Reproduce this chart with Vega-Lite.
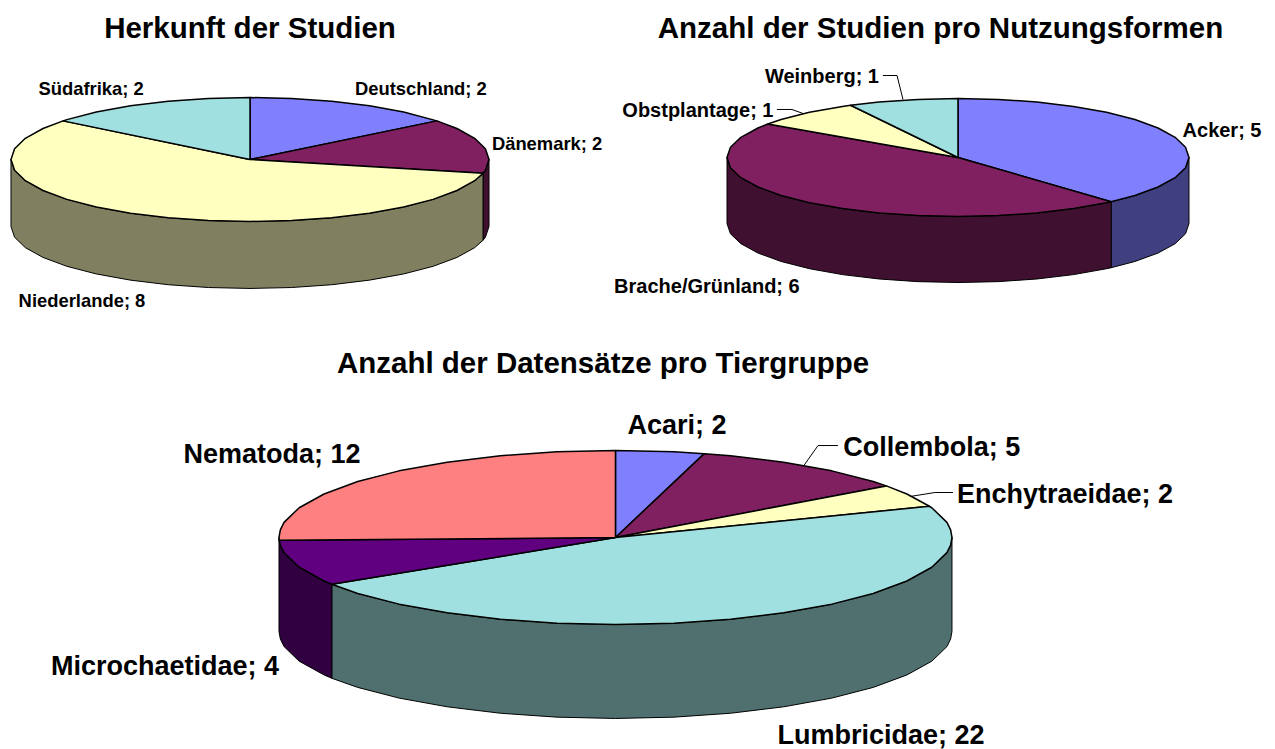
{"$schema":"https://vega.github.io/schema/vega-lite/v6.json","padding":{"left":0,"top":13.5,"right":0,"bottom":0},"spacing":335,"bounds":"flush","config":{"view":{"stroke":null},"title":{"font":"Liberation Sans","fontWeight":"bold","fontSize":29.5,"color":"#000","anchor":"middle","offset":6}},
"datasets":{
"topA":[
{"teil":"Deutschland","x":0,"y":0},{"teil":"Deutschland","x":0,"y":1},{"teil":"Deutschland","x":0.174,"y":0.985},{"teil":"Deutschland","x":0.342,"y":0.94},{"teil":"Deutschland","x":0.5,"y":0.866},{"teil":"Deutschland","x":0.643,"y":0.766},{"teil":"Deutschland","x":0.782,"y":0.623},{"teil":"Deutschland","x":0,"y":0},
{"teil":"Dänemark","x":0,"y":0},{"teil":"Dänemark","x":0.782,"y":0.623},{"teil":"Dänemark","x":0.866,"y":0.5},{"teil":"Dänemark","x":0.94,"y":0.342},{"teil":"Dänemark","x":0.985,"y":0.174},{"teil":"Dänemark","x":1,"y":0},{"teil":"Dänemark","x":0.985,"y":-0.174},{"teil":"Dänemark","x":0.975,"y":-0.223},{"teil":"Dänemark","x":0,"y":0},
{"teil":"Niederlande","x":0,"y":0},{"teil":"Niederlande","x":0.975,"y":-0.223},{"teil":"Niederlande","x":0.94,"y":-0.342},{"teil":"Niederlande","x":0.866,"y":-0.5},{"teil":"Niederlande","x":0.766,"y":-0.643},{"teil":"Niederlande","x":0.643,"y":-0.766},{"teil":"Niederlande","x":0.5,"y":-0.866},{"teil":"Niederlande","x":0.342,"y":-0.94},{"teil":"Niederlande","x":0.174,"y":-0.985},{"teil":"Niederlande","x":0,"y":-1},{"teil":"Niederlande","x":-0.174,"y":-0.985},{"teil":"Niederlande","x":-0.342,"y":-0.94},{"teil":"Niederlande","x":-0.5,"y":-0.866},{"teil":"Niederlande","x":-0.643,"y":-0.766},{"teil":"Niederlande","x":-0.766,"y":-0.643},{"teil":"Niederlande","x":-0.866,"y":-0.5},{"teil":"Niederlande","x":-0.94,"y":-0.342},{"teil":"Niederlande","x":-0.985,"y":-0.174},{"teil":"Niederlande","x":-1,"y":0},{"teil":"Niederlande","x":-0.985,"y":0.174},{"teil":"Niederlande","x":-0.94,"y":0.342},{"teil":"Niederlande","x":-0.866,"y":0.5},{"teil":"Niederlande","x":-0.782,"y":0.623},{"teil":"Niederlande","x":0,"y":0},
{"teil":"Südafrika","x":0,"y":0},{"teil":"Südafrika","x":-0.782,"y":0.623},{"teil":"Südafrika","x":-0.766,"y":0.643},{"teil":"Südafrika","x":-0.643,"y":0.766},{"teil":"Südafrika","x":-0.5,"y":0.866},{"teil":"Südafrika","x":-0.342,"y":0.94},{"teil":"Südafrika","x":-0.174,"y":0.985},{"teil":"Südafrika","x":0,"y":1},{"teil":"Südafrika","x":0,"y":0}],
"wandA":[
{"teil":"Dänemark Wand","x":1,"y":0,"y2":-1.08},{"teil":"Dänemark Wand","x":0.985,"y":-0.174,"y2":-1.254},{"teil":"Dänemark Wand","x":0.975,"y":-0.223,"y2":-1.303},
{"teil":"Niederlande Wand","x":0.975,"y":-0.223,"y2":-1.303},{"teil":"Niederlande Wand","x":0.94,"y":-0.342,"y2":-1.422},{"teil":"Niederlande Wand","x":0.866,"y":-0.5,"y2":-1.58},{"teil":"Niederlande Wand","x":0.766,"y":-0.643,"y2":-1.723},{"teil":"Niederlande Wand","x":0.643,"y":-0.766,"y2":-1.846},{"teil":"Niederlande Wand","x":0.5,"y":-0.866,"y2":-1.946},{"teil":"Niederlande Wand","x":0.342,"y":-0.94,"y2":-2.02},{"teil":"Niederlande Wand","x":0.174,"y":-0.985,"y2":-2.065},{"teil":"Niederlande Wand","x":0,"y":-1,"y2":-2.08},{"teil":"Niederlande Wand","x":-0.174,"y":-0.985,"y2":-2.065},{"teil":"Niederlande Wand","x":-0.342,"y":-0.94,"y2":-2.02},{"teil":"Niederlande Wand","x":-0.5,"y":-0.866,"y2":-1.946},{"teil":"Niederlande Wand","x":-0.643,"y":-0.766,"y2":-1.846},{"teil":"Niederlande Wand","x":-0.766,"y":-0.643,"y2":-1.723},{"teil":"Niederlande Wand","x":-0.866,"y":-0.5,"y2":-1.58},{"teil":"Niederlande Wand","x":-0.94,"y":-0.342,"y2":-1.422},{"teil":"Niederlande Wand","x":-0.985,"y":-0.174,"y2":-1.254},{"teil":"Niederlande Wand","x":-1,"y":0,"y2":-1.08}],
"textA":[{"label":"Deutschland; 2","x":0.715,"y":1.129},{"label":"Südafrika; 2","x":-0.665,"y":1.129},{"label":"Dänemark; 2","x":1.243,"y":0.242},{"label":"Niederlande; 8","x":-0.703,"y":-2.29}],
"topB":[
{"teil":"Acker","x":0,"y":0},{"teil":"Acker","x":0,"y":1},{"teil":"Acker","x":0.174,"y":0.985},{"teil":"Acker","x":0.342,"y":0.94},{"teil":"Acker","x":0.5,"y":0.866},{"teil":"Acker","x":0.643,"y":0.766},{"teil":"Acker","x":0.766,"y":0.643},{"teil":"Acker","x":0.866,"y":0.5},{"teil":"Acker","x":0.94,"y":0.342},{"teil":"Acker","x":0.985,"y":0.174},{"teil":"Acker","x":1,"y":0},{"teil":"Acker","x":0.985,"y":-0.174},{"teil":"Acker","x":0.94,"y":-0.342},{"teil":"Acker","x":0.866,"y":-0.5},{"teil":"Acker","x":0.766,"y":-0.643},{"teil":"Acker","x":0.663,"y":-0.749},{"teil":"Acker","x":0,"y":0},
{"teil":"Brache/Grünland","x":0,"y":0},{"teil":"Brache/Grünland","x":0.663,"y":-0.749},{"teil":"Brache/Grünland","x":0.643,"y":-0.766},{"teil":"Brache/Grünland","x":0.5,"y":-0.866},{"teil":"Brache/Grünland","x":0.342,"y":-0.94},{"teil":"Brache/Grünland","x":0.174,"y":-0.985},{"teil":"Brache/Grünland","x":0,"y":-1},{"teil":"Brache/Grünland","x":-0.174,"y":-0.985},{"teil":"Brache/Grünland","x":-0.342,"y":-0.94},{"teil":"Brache/Grünland","x":-0.5,"y":-0.866},{"teil":"Brache/Grünland","x":-0.643,"y":-0.766},{"teil":"Brache/Grünland","x":-0.766,"y":-0.643},{"teil":"Brache/Grünland","x":-0.866,"y":-0.5},{"teil":"Brache/Grünland","x":-0.94,"y":-0.342},{"teil":"Brache/Grünland","x":-0.985,"y":-0.174},{"teil":"Brache/Grünland","x":-1,"y":0},{"teil":"Brache/Grünland","x":-0.985,"y":0.174},{"teil":"Brache/Grünland","x":-0.94,"y":0.342},{"teil":"Brache/Grünland","x":-0.866,"y":0.5},{"teil":"Brache/Grünland","x":-0.823,"y":0.568},{"teil":"Brache/Grünland","x":0,"y":0},
{"teil":"Obstplantage","x":0,"y":0},{"teil":"Obstplantage","x":-0.823,"y":0.568},{"teil":"Obstplantage","x":-0.766,"y":0.643},{"teil":"Obstplantage","x":-0.643,"y":0.766},{"teil":"Obstplantage","x":-0.5,"y":0.866},{"teil":"Obstplantage","x":-0.465,"y":0.885},{"teil":"Obstplantage","x":0,"y":0},
{"teil":"Weinberg","x":0,"y":0},{"teil":"Weinberg","x":-0.465,"y":0.885},{"teil":"Weinberg","x":-0.342,"y":0.94},{"teil":"Weinberg","x":-0.174,"y":0.985},{"teil":"Weinberg","x":0,"y":1},{"teil":"Weinberg","x":0,"y":0}],
"wandB":[
{"teil":"Acker Wand","x":1,"y":0,"y2":-1.119},{"teil":"Acker Wand","x":0.985,"y":-0.174,"y2":-1.293},{"teil":"Acker Wand","x":0.94,"y":-0.342,"y2":-1.461},{"teil":"Acker Wand","x":0.866,"y":-0.5,"y2":-1.619},{"teil":"Acker Wand","x":0.766,"y":-0.643,"y2":-1.762},{"teil":"Acker Wand","x":0.663,"y":-0.749,"y2":-1.868},
{"teil":"Brache Wand","x":0.663,"y":-0.749,"y2":-1.868},{"teil":"Brache Wand","x":0.643,"y":-0.766,"y2":-1.885},{"teil":"Brache Wand","x":0.5,"y":-0.866,"y2":-1.985},{"teil":"Brache Wand","x":0.342,"y":-0.94,"y2":-2.059},{"teil":"Brache Wand","x":0.174,"y":-0.985,"y2":-2.104},{"teil":"Brache Wand","x":0,"y":-1,"y2":-2.119},{"teil":"Brache Wand","x":-0.174,"y":-0.985,"y2":-2.104},{"teil":"Brache Wand","x":-0.342,"y":-0.94,"y2":-2.059},{"teil":"Brache Wand","x":-0.5,"y":-0.866,"y2":-1.985},{"teil":"Brache Wand","x":-0.643,"y":-0.766,"y2":-1.885},{"teil":"Brache Wand","x":-0.766,"y":-0.643,"y2":-1.762},{"teil":"Brache Wand","x":-0.866,"y":-0.5,"y2":-1.619},{"teil":"Brache Wand","x":-0.94,"y":-0.342,"y2":-1.461},{"teil":"Brache Wand","x":-0.985,"y":-0.174,"y2":-1.293},{"teil":"Brache Wand","x":-1,"y":0,"y2":-1.119}],
"textB":[{"label":"Acker; 5","x":1.143,"y":0.441},{"label":"Weinberg; 1","x":-0.589,"y":1.356},{"label":"Obstplantage; 1","x":-1.126,"y":0.78},{"label":"Brache/Grünland; 6","x":-1.087,"y":-2.203}],
"leitB":[{"teil":"Weinberg","x":-0.325,"y":1.39},{"teil":"Weinberg","x":-0.264,"y":1.39},{"teil":"Weinberg","x":-0.238,"y":0.983},{"teil":"Obstplantage","x":-0.784,"y":0.814},{"teil":"Obstplantage","x":-0.719,"y":0.814},{"teil":"Obstplantage","x":-0.671,"y":0.746}],
"topC":[
{"teil":"Acari","x":0,"y":0},{"teil":"Acari","x":0,"y":1},{"teil":"Acari","x":0.174,"y":0.985},{"teil":"Acari","x":0.264,"y":0.964},{"teil":"Acari","x":0,"y":0},
{"teil":"Collembola","x":0,"y":0},{"teil":"Collembola","x":0.264,"y":0.964},{"teil":"Collembola","x":0.342,"y":0.94},{"teil":"Collembola","x":0.5,"y":0.866},{"teil":"Collembola","x":0.643,"y":0.766},{"teil":"Collembola","x":0.766,"y":0.643},{"teil":"Collembola","x":0.805,"y":0.593},{"teil":"Collembola","x":0,"y":0},
{"teil":"Enchytraeidae","x":0,"y":0},{"teil":"Enchytraeidae","x":0.805,"y":0.593},{"teil":"Enchytraeidae","x":0.866,"y":0.5},{"teil":"Enchytraeidae","x":0.933,"y":0.359},{"teil":"Enchytraeidae","x":0,"y":0},
{"teil":"Lumbricidae","x":0,"y":0},{"teil":"Lumbricidae","x":0.933,"y":0.359},{"teil":"Lumbricidae","x":0.94,"y":0.342},{"teil":"Lumbricidae","x":0.985,"y":0.174},{"teil":"Lumbricidae","x":0.996,"y":0.087},{"teil":"Lumbricidae","x":1,"y":0},{"teil":"Lumbricidae","x":0.996,"y":-0.087},{"teil":"Lumbricidae","x":0.985,"y":-0.174},{"teil":"Lumbricidae","x":0.94,"y":-0.342},{"teil":"Lumbricidae","x":0.866,"y":-0.5},{"teil":"Lumbricidae","x":0.766,"y":-0.643},{"teil":"Lumbricidae","x":0.643,"y":-0.766},{"teil":"Lumbricidae","x":0.5,"y":-0.866},{"teil":"Lumbricidae","x":0.342,"y":-0.94},{"teil":"Lumbricidae","x":0.174,"y":-0.985},{"teil":"Lumbricidae","x":0,"y":-1},{"teil":"Lumbricidae","x":-0.174,"y":-0.985},{"teil":"Lumbricidae","x":-0.342,"y":-0.94},{"teil":"Lumbricidae","x":-0.5,"y":-0.866},{"teil":"Lumbricidae","x":-0.643,"y":-0.766},{"teil":"Lumbricidae","x":-0.766,"y":-0.643},{"teil":"Lumbricidae","x":-0.843,"y":-0.538},{"teil":"Lumbricidae","x":0,"y":0},
{"teil":"Microchaetidae","x":0,"y":0},{"teil":"Microchaetidae","x":-0.843,"y":-0.538},{"teil":"Microchaetidae","x":-0.866,"y":-0.5},{"teil":"Microchaetidae","x":-0.94,"y":-0.342},{"teil":"Microchaetidae","x":-0.985,"y":-0.174},{"teil":"Microchaetidae","x":-0.996,"y":-0.087},{"teil":"Microchaetidae","x":-0.999,"y":-0.033},{"teil":"Microchaetidae","x":0,"y":0},
{"teil":"Nematoda","x":0,"y":0},{"teil":"Nematoda","x":-0.999,"y":-0.033},{"teil":"Nematoda","x":-1,"y":0},{"teil":"Nematoda","x":-0.996,"y":0.087},{"teil":"Nematoda","x":-0.985,"y":0.174},{"teil":"Nematoda","x":-0.94,"y":0.342},{"teil":"Nematoda","x":-0.866,"y":0.5},{"teil":"Nematoda","x":-0.766,"y":0.643},{"teil":"Nematoda","x":-0.643,"y":0.766},{"teil":"Nematoda","x":-0.5,"y":0.866},{"teil":"Nematoda","x":-0.342,"y":0.94},{"teil":"Nematoda","x":-0.174,"y":0.985},{"teil":"Nematoda","x":0,"y":1},{"teil":"Nematoda","x":0,"y":0}],
"wandC":[
{"teil":"Lumbricidae Wand","x":1,"y":0,"y2":-1.08},{"teil":"Lumbricidae Wand","x":0.996,"y":-0.087,"y2":-1.167},{"teil":"Lumbricidae Wand","x":0.985,"y":-0.174,"y2":-1.254},{"teil":"Lumbricidae Wand","x":0.94,"y":-0.342,"y2":-1.422},{"teil":"Lumbricidae Wand","x":0.866,"y":-0.5,"y2":-1.58},{"teil":"Lumbricidae Wand","x":0.766,"y":-0.643,"y2":-1.723},{"teil":"Lumbricidae Wand","x":0.643,"y":-0.766,"y2":-1.846},{"teil":"Lumbricidae Wand","x":0.5,"y":-0.866,"y2":-1.946},{"teil":"Lumbricidae Wand","x":0.342,"y":-0.94,"y2":-2.02},{"teil":"Lumbricidae Wand","x":0.174,"y":-0.985,"y2":-2.065},{"teil":"Lumbricidae Wand","x":0,"y":-1,"y2":-2.08},{"teil":"Lumbricidae Wand","x":-0.174,"y":-0.985,"y2":-2.065},{"teil":"Lumbricidae Wand","x":-0.342,"y":-0.94,"y2":-2.02},{"teil":"Lumbricidae Wand","x":-0.5,"y":-0.866,"y2":-1.946},{"teil":"Lumbricidae Wand","x":-0.643,"y":-0.766,"y2":-1.846},{"teil":"Lumbricidae Wand","x":-0.766,"y":-0.643,"y2":-1.723},{"teil":"Lumbricidae Wand","x":-0.843,"y":-0.538,"y2":-1.618},
{"teil":"Microchaetidae Wand","x":-0.843,"y":-0.538,"y2":-1.618},{"teil":"Microchaetidae Wand","x":-0.866,"y":-0.5,"y2":-1.58},{"teil":"Microchaetidae Wand","x":-0.94,"y":-0.342,"y2":-1.422},{"teil":"Microchaetidae Wand","x":-0.985,"y":-0.174,"y2":-1.254},{"teil":"Microchaetidae Wand","x":-0.996,"y":-0.087,"y2":-1.167},{"teil":"Microchaetidae Wand","x":-1,"y":0,"y2":-1.08}],
"textC":[{"label":"Acari; 2","x":0.183,"y":1.276},{"label":"Collembola; 5","x":0.94,"y":1.034},{"label":"Enchytraeidae; 2","x":1.336,"y":0.483},{"label":"Lumbricidae; 22","x":0.789,"y":-2.285},{"label":"Microchaetidae; 4","x":-1.339,"y":-1.494},{"label":"Nematoda; 12","x":-1.021,"y":0.954}],
"leitC":[{"teil":"Collembola","x":0.661,"y":1.057},{"teil":"Collembola","x":0.602,"y":1.057},{"teil":"Collembola","x":0.56,"y":0.828},{"teil":"Enchytraeidae","x":1.003,"y":0.517},{"teil":"Enchytraeidae","x":0.949,"y":0.517},{"teil":"Enchytraeidae","x":0.875,"y":0.471}]
},
"vconcat":[
{"hconcat":[
{"title":"Herkunft der Studien","width":500,"height":270,
"encoding":{"x":{"field":"x","type":"quantitative","axis":null,"scale":{"domain":[-1.046,1.046],"nice":false,"zero":false}},"y":{"field":"y","type":"quantitative","axis":null,"scale":{"domain":[-2.597,1.758],"nice":false,"zero":false}}},
"layer":[
{"data":{"name":"wandA"},"mark":{"type":"area","stroke":"#000","strokeWidth":1,"strokeJoin":"round"},"encoding":{"y2":{"field":"y2"},"fill":{"field":"teil","type":"nominal","legend":null,"scale":{"domain":["Deutschland","Dänemark","Niederlande","Südafrika","Dänemark Wand","Niederlande Wand","Acker","Brache/Grünland","Obstplantage","Weinberg","Acker Wand","Brache Wand","Acari","Collembola","Enchytraeidae","Lumbricidae","Microchaetidae","Nematoda","Lumbricidae Wand","Microchaetidae Wand"],"range":["#8080FF","#802060","#FFFFC0","#A0E0E0","#401030","#808060","#8080FF","#802060","#FFFFC0","#A0E0E0","#404080","#401030","#8080FF","#802060","#FFFFC0","#A0E0E0","#600080","#FF8080","#507070","#300040"]}}}},
{"data":{"name":"topA"},"mark":{"type":"line","order":null,"stroke":"#000","strokeWidth":1.5,"strokeJoin":"round"},"encoding":{"fill":{"field":"teil","type":"nominal","legend":null}}},
{"data":{"name":"textA"},"mark":{"type":"text","font":"Liberation Sans","fontWeight":"bold","fontSize":18.4,"color":"#000"},"encoding":{"text":{"field":"label"}}}
]},
{"title":"Anzahl der Studien pro Nutzungsformen","width":661,"height":270,
"encoding":{"x":{"field":"x","type":"quantitative","axis":null,"scale":{"domain":[-1.5065,1.355],"nice":false,"zero":false}},"y":{"field":"y","type":"quantitative","axis":null,"scale":{"domain":[-2.7627,1.8136],"nice":false,"zero":false}}},
"layer":[
{"data":{"name":"wandB"},"mark":{"type":"area","stroke":"#000","strokeWidth":1,"strokeJoin":"round"},"encoding":{"y2":{"field":"y2"},"fill":{"field":"teil","type":"nominal","legend":null,"scale":{"domain":["Deutschland","Dänemark","Niederlande","Südafrika","Dänemark Wand","Niederlande Wand","Acker","Brache/Grünland","Obstplantage","Weinberg","Acker Wand","Brache Wand","Acari","Collembola","Enchytraeidae","Lumbricidae","Microchaetidae","Nematoda","Lumbricidae Wand","Microchaetidae Wand"],"range":["#8080FF","#802060","#FFFFC0","#A0E0E0","#401030","#808060","#8080FF","#802060","#FFFFC0","#A0E0E0","#404080","#401030","#8080FF","#802060","#FFFFC0","#A0E0E0","#600080","#FF8080","#507070","#300040"]}}}},
{"data":{"name":"topB"},"mark":{"type":"line","order":null,"stroke":"#000","strokeWidth":1.5,"strokeJoin":"round"},"encoding":{"fill":{"field":"teil","type":"nominal","legend":null}}},
{"data":{"name":"leitB"},"mark":{"type":"line","order":null,"stroke":"#000","strokeWidth":1},"encoding":{"detail":{"field":"teil"}}},
{"data":{"name":"textB"},"mark":{"type":"text","font":"Liberation Sans","fontWeight":"bold","fontSize":20,"color":"#000"},"encoding":{"text":{"field":"label"}}}
]}
],"spacing":110,"bounds":"flush"},
{"title":"Anzahl der Datensätze pro Tiergruppe","width":1206,"height":360,
"encoding":{"x":{"field":"x","type":"quantitative","axis":null,"scale":{"domain":[-1.8291,1.7549],"nice":false,"zero":false}},"y":{"field":"y","type":"quantitative","axis":null,"scale":{"domain":[-2.3908,1.7471],"nice":false,"zero":false}}},
"layer":[
{"data":{"name":"wandC"},"mark":{"type":"area","stroke":"#000","strokeWidth":1,"strokeJoin":"round"},"encoding":{"y2":{"field":"y2"},"fill":{"field":"teil","type":"nominal","legend":null,"scale":{"domain":["Deutschland","Dänemark","Niederlande","Südafrika","Dänemark Wand","Niederlande Wand","Acker","Brache/Grünland","Obstplantage","Weinberg","Acker Wand","Brache Wand","Acari","Collembola","Enchytraeidae","Lumbricidae","Microchaetidae","Nematoda","Lumbricidae Wand","Microchaetidae Wand"],"range":["#8080FF","#802060","#FFFFC0","#A0E0E0","#401030","#808060","#8080FF","#802060","#FFFFC0","#A0E0E0","#404080","#401030","#8080FF","#802060","#FFFFC0","#A0E0E0","#600080","#FF8080","#507070","#300040"]}}}},
{"data":{"name":"topC"},"mark":{"type":"line","order":null,"stroke":"#000","strokeWidth":1.5,"strokeJoin":"round"},"encoding":{"fill":{"field":"teil","type":"nominal","legend":null}}},
{"data":{"name":"leitC"},"mark":{"type":"line","order":null,"stroke":"#000","strokeWidth":1},"encoding":{"detail":{"field":"teil"}}},
{"data":{"name":"textC"},"mark":{"type":"text","font":"Liberation Sans","fontWeight":"bold","fontSize":27,"color":"#000"},"encoding":{"text":{"field":"label"}}}
]}
]}
